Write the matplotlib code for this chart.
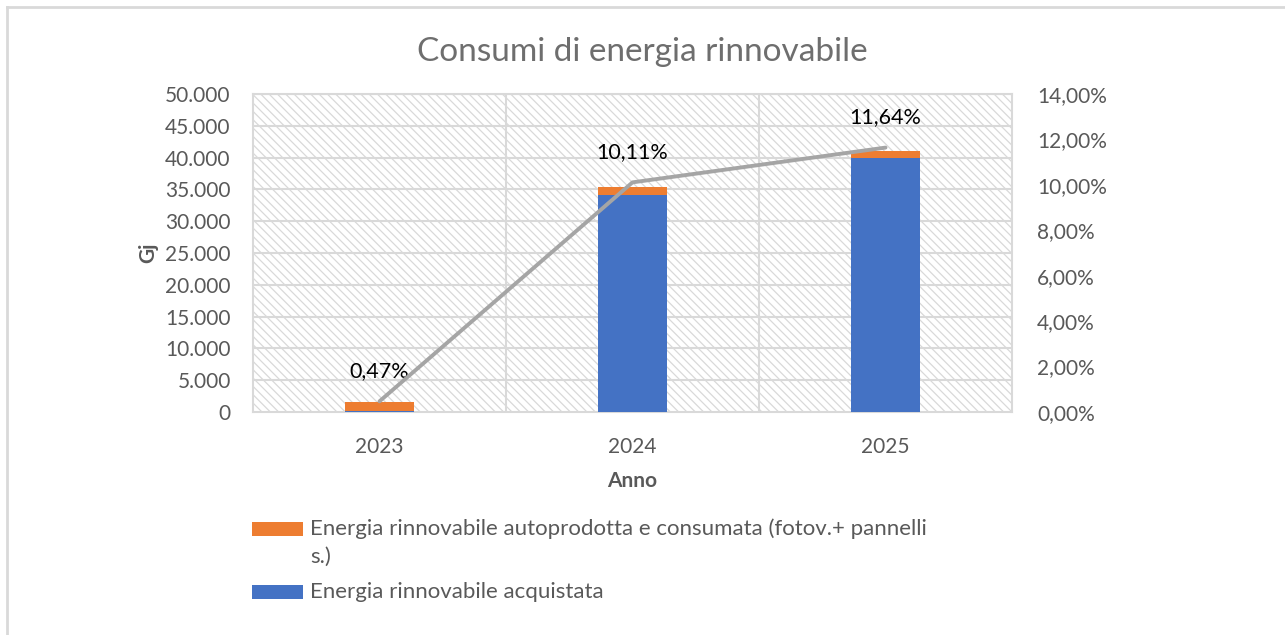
import numpy as np
import matplotlib
matplotlib.use('Agg')
from matplotlib import pyplot as plt
from matplotlib.patches import Rectangle
from matplotlib.lines import Line2D
from matplotlib.ticker import FuncFormatter

plt.rcParams['font.family'] = ['Lato', 'DejaVu Sans']
plt.rcParams['hatch.color'] = '#d4d4d4'
plt.rcParams['hatch.linewidth'] = 0.9

# data
years = ['2023', '2024', '2025']
acquistata = [150, 34100, 39900]          # Gj, blue
autoprodotta = [1450, 1200, 1100]         # Gj, orange
quota = [0.47, 10.11, 11.64]              # %, grey line
labels = ['Energia rinnovabile autoprodotta e consumata (fotov.+ pannelli\ns.)',
          'Energia rinnovabile acquistata']

blue = '#4472C4'
orange = '#ED7D31'
grey_line = '#A5A5A5'
grid_col = '#d9d9d9'
txt_col = '#595959'

W, H = 1285, 635
fig = plt.figure(figsize=(W / 100, H / 100), dpi=100)

def fx(px):
    return px / W

def fy(py):
    return 1 - py / H

ax = fig.add_axes([fx(253), fy(412), fx(1012) - fx(253), fy(94) - fy(412)])
x = np.arange(len(years))

# hatched background
ax.add_patch(Rectangle((0, 0), 1, 1, transform=ax.transAxes, facecolor='none',
                       edgecolor=grid_col, hatch='\\\\\\\\', linewidth=0, zorder=0))

for yv in range(5000, 50001, 5000):
    ax.axhline(yv, color=grid_col, lw=1.5, zorder=1)
for xv in [0.5, 1.5]:
    ax.axvline(xv, color=grid_col, lw=1.5, zorder=1)

bw = 0.27
ax.bar(x, acquistata, bw, color=blue, zorder=3, label=labels[1])
ax.bar(x, autoprodotta, bw, bottom=acquistata, color=orange, zorder=3, label=labels[0])

ax.set_xlim(-0.5, 2.5)
ax.set_ylim(0, 50000)
ax.set_yticks(range(0, 50001, 5000))
ax.yaxis.set_major_formatter(FuncFormatter(lambda v, p: f'{int(v):,}'.replace(',', '.')))
ax.set_xticks(x)
ax.set_xticklabels(years)
ax.tick_params(axis='y', length=0, labelsize=15, colors=txt_col, pad=16)
ax.tick_params(axis='x', length=0, labelsize=15, colors=txt_col, pad=18)
for s in ax.spines.values():
    s.set_color(grid_col)
    s.set_linewidth(1.5)

ax.set_ylabel('Gj', fontsize=15, fontweight='bold', color=txt_col)
ax.yaxis.set_label_coords((148 - 253) / 759, 0.5)
ax.set_xlabel('Anno', fontsize=15, fontweight='bold', color=txt_col)
ax.xaxis.set_label_coords(0.5, -(481 - 412) / 318)
ax.xaxis.label.set_va('center')
ax.yaxis.label.set_va('center')

ax2 = ax.twinx()
ax2.set_ylim(0, 14)
ax2.set_yticks(np.arange(0, 14.01, 2))
ax2.yaxis.set_major_formatter(FuncFormatter(lambda v, p: f'{v:.2f}'.replace('.', ',') + '%'))
ax2.tick_params(length=0, labelsize=15, colors=txt_col, pad=18)
for s in ax2.spines.values():
    s.set_visible(False)
ax2.plot(x, quota, color=grey_line, lw=2.8, solid_capstyle='round', zorder=4)
for xi, q in zip(x, quota):
    ax2.annotate(f'{q:.2f}'.replace('.', ',') + '%', (xi, q), xytext=(0, 22),
                 textcoords='offset points', ha='center', va='center',
                 fontsize=15.5, color='black')

fig.text(0.5, fy(52), 'Consumi di energia rinnovabile', ha='center', va='center',
         fontsize=24, color='#6e6e6e')

# legend drawn by hand to match layout
leg_cols = [orange, blue]
leg_y = [529, 592]
for col, lab, yy in zip(leg_cols, labels, leg_y):
    fig.add_artist(Rectangle((fx(252), fy(yy + 7)), fx(51), fy(yy - 7) - fy(yy + 7),
                             transform=fig.transFigure, facecolor=col, edgecolor='none'))
    fig.text(fx(310), fy(yy - 11) if '\n' in lab else fy(yy), lab, ha='left',
             va='top' if '\n' in lab else 'center',
             fontsize=16, color=txt_col, linespacing=1.5)

# chart border (left and top visible)
fig.add_artist(Line2D([fx(7), fx(7)], [0, fy(7)], color=grid_col, lw=2))
fig.add_artist(Line2D([fx(7), 1], [fy(7), fy(7)], color=grid_col, lw=2))

plt.savefig('out.png', dpi=100)
